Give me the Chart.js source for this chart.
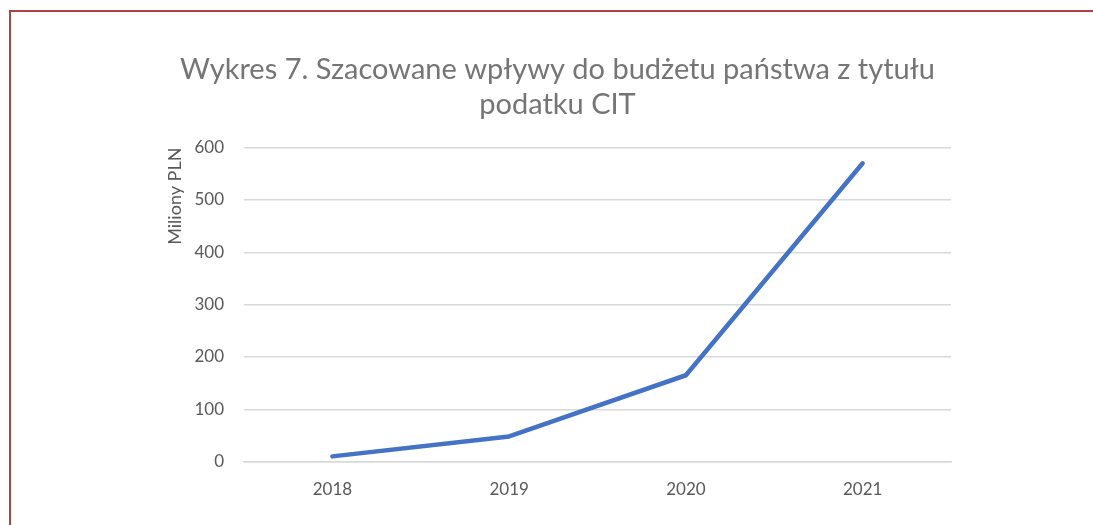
<!DOCTYPE html>
<html>
<head>
<meta charset="utf-8">
<script src="https://cdn.jsdelivr.net/npm/chart.js@4.4.0/dist/chart.umd.min.js"></script>
<style>
  html, body { margin: 0; padding: 0; overflow: hidden; background: #fff; }
  #wrap { position: relative; width: 1093px; height: 525px; }
  #frame { position: absolute; left: 9px; top: 10px; width: 1100px; height: 540px;
           border-top: 2px solid #a94442; border-left: 2px solid #a94442; box-sizing: border-box; }
  canvas { position: absolute; left: 0; top: 0; }
</style>
</head>
<body>
<div id="wrap">
  <div id="frame"></div>
  <canvas id="line_chart" width="1093" height="525"></canvas>
</div>
<script>
// data
var years = ["2018", "2019", "2020", "2021"];
var revenue = [10, 48, 165, 570];
var yTicks = [0, 100, 200, 300, 400, 500, 600];

var c1 = document.getElementById("line_chart").getContext("2d");

var line_chart = new Chart(c1, {
    type: "line",
    data: {
        labels: years,
        datasets: [{
            label: "Wpływy",
            data: revenue,
            borderColor: "#4472C4",
            borderWidth: 4.5,
            borderCapStyle: "round",
            borderJoinStyle: "round",
            fill: false,
            tension: 0,
            pointRadius: 0
        }]
    },
    options: {
        responsive: false,
        animation: false,
        layout: {
            padding: { left: 164, right: 142, top: 52, bottom: 7 }
        },
        plugins: {
            legend: { display: false },
            tooltip: { enabled: false },
            title: {
                display: true,
                text: ["Wykres 7. Szacowane wpływy do budżetu państwa z tytułu", "podatku CIT"],
                color: "#757575",
                font: { family: "Lato", size: 29, weight: "normal" },
                lineHeight: 1.25,
                padding: { top: 0, bottom: 26 }
            }
        },
        scales: {
            x: {
                offset: true,
                grid: { display: false, drawTicks: false },
                border: { display: true, color: "#d9d9d9", width: 1.5 },
                ticks: {
                    color: "#595959",
                    font: { family: "Lato", size: 17 },
                    padding: 18
                }
            },
            y: {
                min: 0,
                max: 600,
                afterBuildTicks: function (axis) {
                    axis.ticks = yTicks.map(function (v) { return { value: v }; });
                },
                afterFit: function (axis) {
                    axis.width = 80;
                },
                grid: { color: "#d9d9d9", lineWidth: 1.5, drawTicks: false },
                border: { display: false },
                ticks: {
                    color: "#595959",
                    font: { family: "Lato", size: 17 },
                    padding: 20
                },
                title: {
                    display: true,
                    text: "Miliony PLN",
                    align: "end",
                    color: "#595959",
                    font: { family: "Lato", size: 18 },
                    padding: { top: 0, bottom: 4 }
                }
            }
        }
    }
});
</script>
</body>
</html>
